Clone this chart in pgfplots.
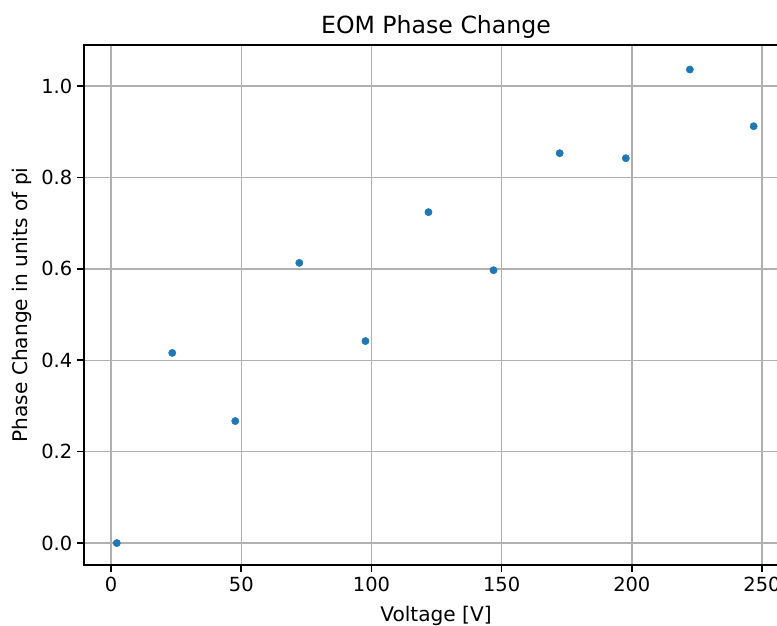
\documentclass[border=0pt]{standalone}
\usepackage{pgfplots}
\pgfplotsset{compat=1.18}
\usepackage{fontspec}
\setmainfont{DejaVu Sans}
\definecolor{mplblue}{HTML}{1F77B4}
\definecolor{gridgray}{HTML}{B0B0B0}
\begin{document}
\begin{tikzpicture}
% the frame is cut just past the last tick on the right
\useasboundingbox (-60.48pt,-43.2pt) rectangle (498.96pt,406.8pt);
\clip (-60.48pt,-43.2pt) rectangle (498.96pt,406.8pt);
\begin{axis}[
  at={(0pt,0pt)}, anchor=south west,
  scale only axis,
  width=506.9pt, height=374.4pt,
  xmin=-10.4, xmax=260,
  ymin=-0.048, ymax=1.0897,
  xtick={0,50,100,150,200,250},
  ytick={0,0.2,0.4,0.6,0.8,1.0},
  yticklabel style={/pgf/number format/.cd,fixed,fixed zerofill,precision=1},
  /pgf/number format/assume math mode=true,
  xtick pos=bottom, ytick pos=left,
  tick align=outside,
  major tick length=4.9pt,
  tick style={black, line width=1.1pt},
  axis line style={black, line width=1.1pt},
  grid=major,
  major grid style={gridgray, line width=1pt},
  ticklabel style={font=\fontsize{14pt}{16pt}\selectfont},
  title={EOM Phase Change},
  title style={font=\fontsize{17pt}{20pt}\selectfont,
    at={(axis description cs:0.5,1)}, anchor=base, yshift=2.2pt},
  xlabel={Voltage [V]},
  xlabel style={font=\fontsize{14.5pt}{17pt}\selectfont,
    at={(axis description cs:0.5,0)}, anchor=base, yshift=-41pt},
  ylabel={Phase Change in units of pi},
  ylabel style={font=\fontsize{14.5pt}{17pt}\selectfont,
    at={(axis description cs:-0.088,0.5)}, anchor=center},
]
\addplot[only marks, mark=*, mark size=2.6pt, mplblue, mark options={draw=mplblue, fill=mplblue}] coordinates {
  (2.2,0.000)
  (23.5,0.416)
  (47.7,0.267)
  (72.3,0.613)
  (97.7,0.442)
  (121.9,0.724)
  (146.9,0.597)
  (172.3,0.853)
  (197.7,0.842)
  (222.3,1.036)
  (246.8,0.912)
};
\end{axis}
\end{tikzpicture}
\end{document}
